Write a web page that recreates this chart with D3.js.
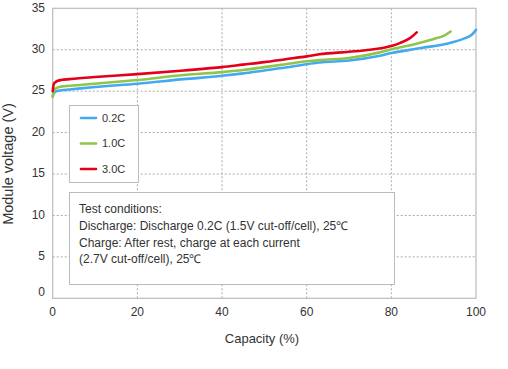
<html>
<head>
<meta charset="utf-8">
<style>
  body { margin: 0; background: #fff; }
  text { font-family: "Liberation Sans", Arial, sans-serif; fill: #333; }
</style>
</head>
<body>
<script src="https://cdn.jsdelivr.net/npm/d3@7"></script>
<script>
    // data
    var capBlue  = [0, 0.3, 1, 2, 4, 10, 20, 31, 40, 45, 50, 55, 60, 63, 70, 77, 80, 87, 94, 97.4, 99, 100];
    var volBlue  = [24.4, 24.8, 25.0, 25.1, 25.2, 25.5, 25.9, 26.45, 26.85, 27.15, 27.5, 27.85, 28.25, 28.45, 28.7, 29.25, 29.6, 30.2, 30.85, 31.4, 31.8, 32.4];
    var capGreen = [0, 0.3, 1, 2, 4, 10, 20, 31, 40, 45, 50, 55, 60, 63, 70, 77, 80, 85, 90, 92.5, 94];
    var volGreen = [24.3, 25.1, 25.4, 25.55, 25.65, 25.9, 26.35, 26.95, 27.3, 27.55, 27.9, 28.25, 28.6, 28.75, 29.0, 29.65, 30.05, 30.6, 31.3, 31.7, 32.2];
    var capRed   = [0, 0.3, 1, 2, 4, 10, 20, 31, 40, 45, 50, 55, 60, 63, 70, 75, 80, 82, 84.4, 86];
    var volRed   = [25.0, 25.9, 26.2, 26.35, 26.45, 26.7, 27.05, 27.5, 27.9, 28.2, 28.5, 28.85, 29.2, 29.45, 29.75, 30.0, 30.45, 30.8, 31.4, 32.1];
    var seriesNames = ["0.2C", "1.0C", "3.0C"];
    var xTicks = [0, 20, 40, 60, 80, 100];
    var yTicks = [0, 5, 10, 15, 20, 25, 30, 35];
    var noteLines = ["Test conditions:",
                     "Discharge: Discharge 0.2C (1.5V cut-off/cell), 25\u2103",
                     "Charge: After rest, charge at each current",
                     "(2.7V cut-off/cell), 25\u2103"];

    var colors = ["#45a9f2", "#8dc64a", "#e3001b"];
    var series = [
        capBlue.map((c, i) => [c, volBlue[i]]),
        capGreen.map((c, i) => [c, volGreen[i]]),
        capRed.map((c, i) => [c, volRed[i]])
    ];

    var width = 508, height = 369;
    var svg = d3.select("body").append("svg")
                .attr("width", width)
                .attr("height", height);

    var x = d3.scaleLinear().domain([0, 100]).range([52.7, 476]);
    var y = d3.scaleLinear().domain([0, 35]).range([298.3, 8.3]);

    // grid
    svg.append("g").selectAll("line")
       .data(xTicks.slice(1, -1))
       .join("line")
       .attr("x1", d => x(d)).attr("x2", d => x(d))
       .attr("y1", y(35)).attr("y2", y(0))
       .attr("stroke", "#aaa").attr("stroke-dasharray", "2,2");
    svg.append("g").selectAll("line")
       .data(yTicks.slice(1, -1))
       .join("line")
       .attr("x1", x(0)).attr("x2", x(100))
       .attr("y1", d => y(d)).attr("y2", d => y(d))
       .attr("stroke", "#aaa").attr("stroke-dasharray", "2,2");

    // frame
    svg.append("rect")
       .attr("x", x(0)).attr("y", y(35))
       .attr("width", x(100) - x(0)).attr("height", y(0) - y(35))
       .attr("fill", "none").attr("stroke", "#bbb").attr("stroke-width", 1.2);

    // tick labels
    svg.append("g").selectAll("text")
       .data(yTicks)
       .join("text")
       .attr("x", 45).attr("y", d => d == 0 ? y(d) - 7 : y(d) - 1)
       .attr("dy", "0.35em")
       .attr("text-anchor", "end")
       .attr("font-size", 12)
       .text(d => d);
    svg.append("g").selectAll("text")
       .data(xTicks)
       .join("text")
       .attr("x", d => x(d)).attr("y", 316)
       .attr("text-anchor", "middle")
       .attr("font-size", 12)
       .text(d => d);

    svg.append("text")
       .attr("x", 262).attr("y", 343)
       .attr("text-anchor", "middle")
       .attr("font-size", 13)
       .text("Capacity (%)");
    svg.append("text")
       .attr("transform", "translate(13,164) rotate(-90)")
       .attr("text-anchor", "middle")
       .attr("font-size", 14.5)
       .text("Module voltage (V)");

    // curves
    var line = d3.line()
                 .x(d => x(d[0]))
                 .y(d => y(d[1]))
                 .curve(d3.curveMonotoneX);
    svg.append("g").selectAll("path")
       .data(series)
       .join("path")
       .attr("d", line)
       .attr("fill", "none")
       .attr("stroke", (d, i) => colors[i])
       .attr("stroke-width", 2.6)
       .attr("stroke-linecap", "round");

    // legend
    var lg = svg.append("g");
    lg.append("rect")
      .attr("x", 69.5).attr("y", 105.5).attr("width", 69).attr("height", 77)
      .attr("fill", "#fff").attr("stroke", "#bbb");
    var item = lg.selectAll("g")
                 .data(seriesNames)
                 .join("g")
                 .attr("transform", (d, i) => "translate(0," + [118, 143.5, 169][i] + ")");
    item.append("line")
        .attr("x1", 81).attr("x2", 96)
        .attr("stroke", (d, i) => colors[i])
        .attr("stroke-width", 2.6)
        .attr("stroke-linecap", "round");
    item.append("text")
        .attr("x", 102).attr("dy", "0.35em")
        .attr("font-size", 11)
        .text(d => d);

    // note box
    var nb = svg.append("g");
    nb.append("rect")
      .attr("x", 69.5).attr("y", 192.5).attr("width", 325).attr("height", 92)
      .attr("fill", "#fff").attr("stroke", "#bbb");
    nb.selectAll("text")
      .data(noteLines)
      .join("text")
      .attr("x", 79)
      .attr("y", (d, i) => 209 + i * 16.7)
      .attr("dy", "0.35em")
      .attr("font-size", 12)
      .text(d => d);
</script>
</body>
</html>
